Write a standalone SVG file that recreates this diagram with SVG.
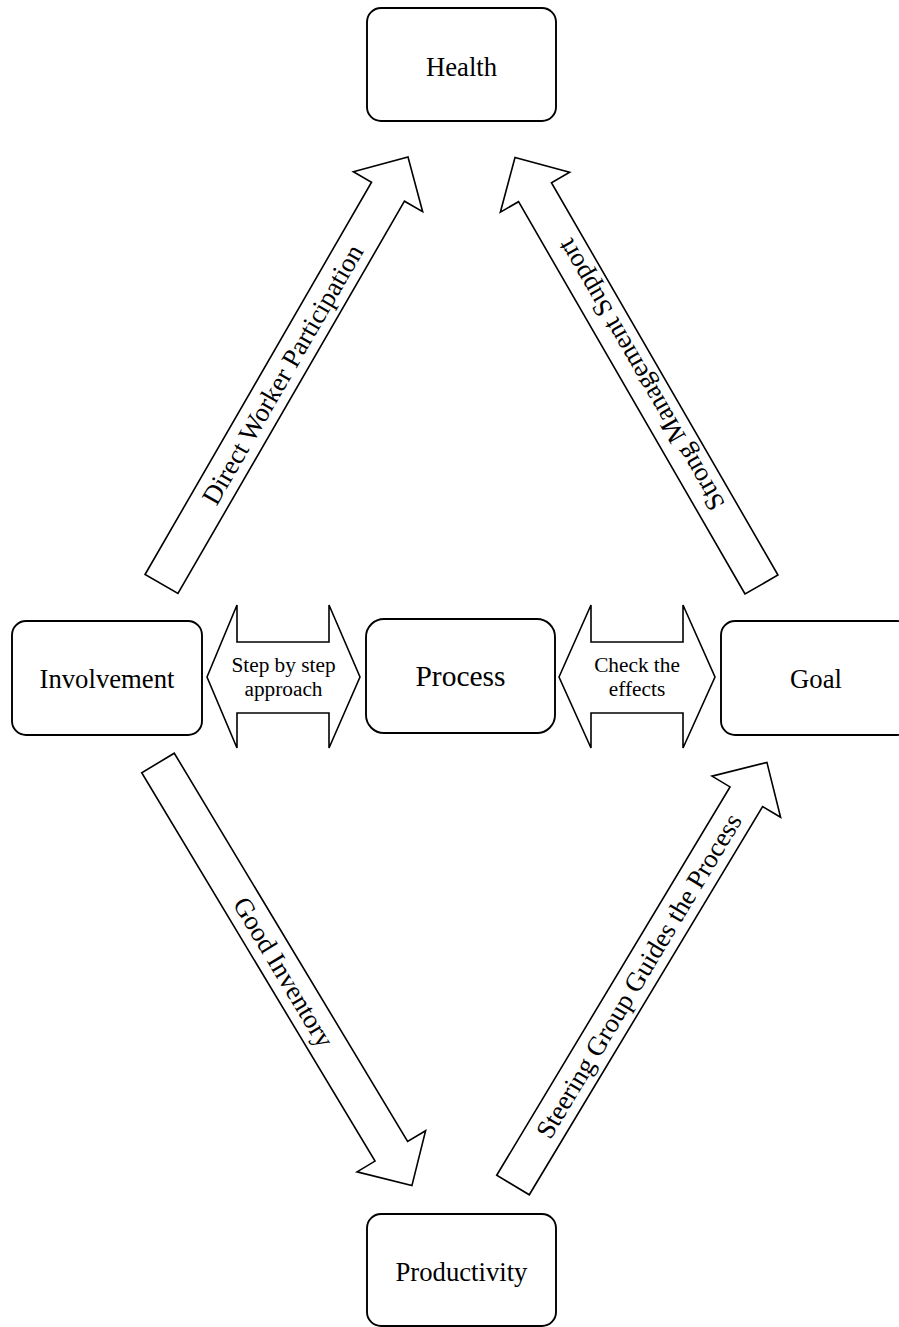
<svg xmlns="http://www.w3.org/2000/svg" width="899" height="1327" viewBox="0 0 899 1327">
<style>
.box{fill:#fff;stroke:#000;stroke-width:1.9}
.arr{fill:#fff;stroke:#000;stroke-width:1.6;stroke-linejoin:miter}
text{font-family:"Liberation Serif","Times New Roman",serif;fill:#000;text-anchor:middle}
.n{font-size:26.7px}
.p{font-size:29.5px}
.s{font-size:21.3px}
.a{font-size:26.7px}
</style>
<defs>
<path id="bigArrow" d="M0,-19 L453,-19 L453,-40 L493,0 L453,40 L453,19 L0,19 Z"/>
</defs>
<g id="connectors">
<g id="arrow-direct" transform="translate(161.5,584) rotate(-60)">
<use href="#bigArrow" class="arr"/>
<text class="a" x="242" y="9">Direct Worker Participation</text>
</g>
<g id="arrow-strong" transform="translate(761.5,584.5) rotate(-120)">
<use href="#bigArrow" class="arr"/>
<text class="a" x="242" y="9">Strong Management Support</text>
</g>
<g id="arrow-good" transform="translate(158,763) rotate(59)">
<use href="#bigArrow" class="arr"/>
<text class="a" x="244" y="9">Good Inventory</text>
</g>
<g id="arrow-steering" transform="translate(513,1185) rotate(-59)">
<use href="#bigArrow" class="arr"/>
<text class="a" x="244" y="9">Steering Group Guides the Process</text>
</g>
<g id="arrow-step">
<path class="arr" d="M207,677 L237,605 L237,642 L329,642 L329,605 L360,677 L329,748 L329,713 L237,713 L237,748 Z"/>
<text class="s" x="283.5" y="672">Step by step</text>
<text class="s" x="283.5" y="696">approach</text>
</g>
<g id="arrow-check">
<path class="arr" d="M559,677 L591,605 L591,642 L683,642 L683,605 L715,677 L683,748 L683,713 L591,713 L591,748 Z"/>
<text class="s" x="637" y="672">Check the</text>
<text class="s" x="637" y="696">effects</text>
</g>
</g>
<g id="node-health">
<rect class="box" x="367" y="8" width="189" height="113" rx="14"/>
<text class="n" x="461.5" y="76">Health</text>
</g>
<g id="node-involvement">
<rect class="box" x="12" y="621" width="190" height="114" rx="14"/>
<text class="n" x="107" y="688">Involvement</text>
</g>
<g id="node-process">
<rect class="box" x="366" y="619" width="189" height="114" rx="18"/>
<text class="p" x="460.5" y="686">Process</text>
</g>
<g id="node-goal">
<rect class="box" x="721" y="621" width="190" height="114" rx="14"/>
<text class="n" x="816" y="688">Goal</text>
</g>
<g id="node-productivity">
<rect class="box" x="367" y="1214" width="189" height="112" rx="14"/>
<text class="n" x="461.5" y="1281">Productivity</text>
</g>
</svg>
